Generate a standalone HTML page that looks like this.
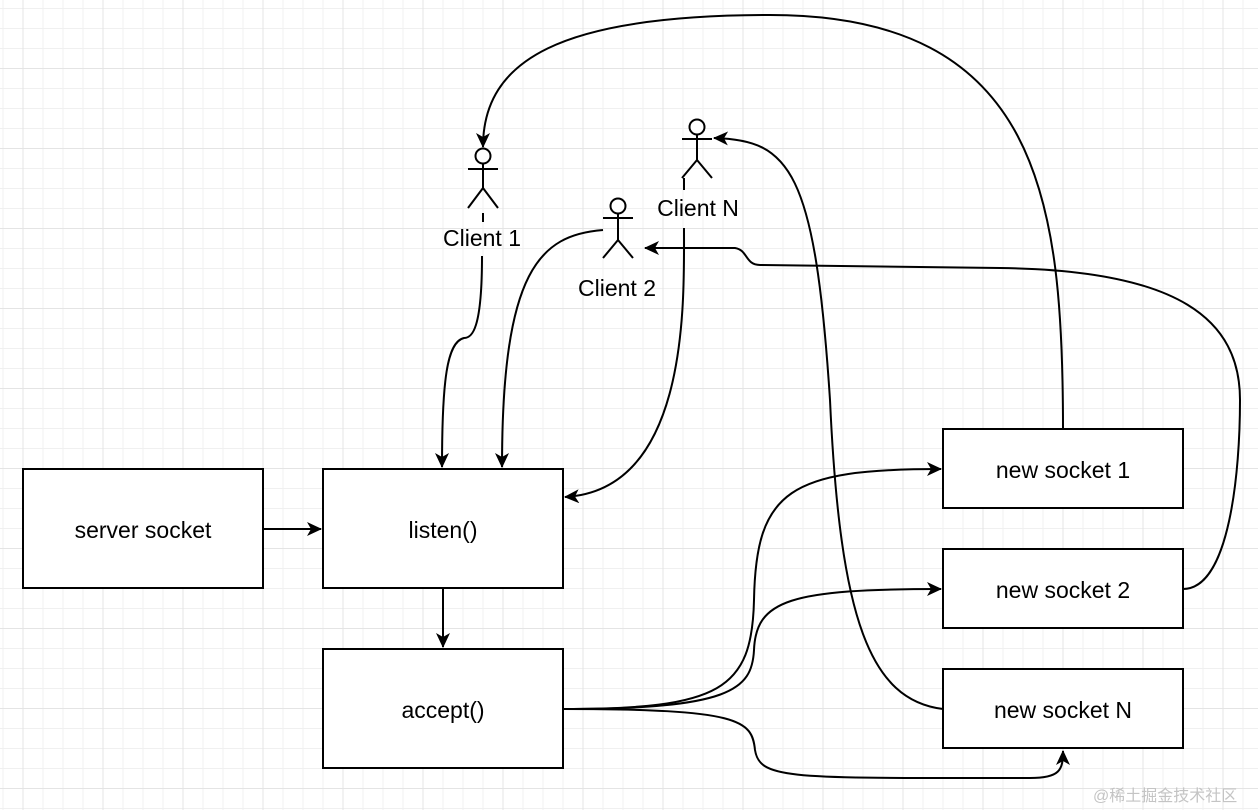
<!DOCTYPE html>
<html><head><meta charset="utf-8"><style>
html,body{margin:0;padding:0;background:#fff;}
svg{display:block;}
text{font-family:"Liberation Sans",Arial,sans-serif;font-size:23px;fill:#000;}
</style></head><body>
<svg width="1258" height="810" viewBox="0 0 1258 810" xmlns="http://www.w3.org/2000/svg">
<defs>
<pattern id="minor" width="20" height="20" patternUnits="userSpaceOnUse" x="2.5" y="8">
<path d="M0 0.5H20M0.5 0V20" stroke="#f0f0f0" stroke-width="1" fill="none"/>
</pattern>
<pattern id="major" width="80" height="80" patternUnits="userSpaceOnUse" x="22.5" y="68">
<path d="M0 0.5H80M0.5 0V80" stroke="#e4e4e4" stroke-width="1" fill="none"/>
</pattern>
<marker id="a" markerWidth="16" markerHeight="14" refX="14" refY="7" orient="auto" markerUnits="userSpaceOnUse" viewBox="0 0 16 14">
<path d="M0,0 L15,7 L0,14 L4,7 Z" fill="#000"/>
</marker>
</defs>
<rect width="1258" height="810" fill="url(#minor)"/>
<rect width="1258" height="810" fill="url(#major)"/>

<g fill="#fff" stroke="#000" stroke-width="2">
<rect x="23" y="469" width="240" height="119"/>
<rect x="323" y="469" width="240" height="119"/>
<rect x="323" y="649" width="240" height="119"/>
<rect x="943" y="429" width="240" height="79"/>
<rect x="943" y="549" width="240" height="79"/>
<rect x="943" y="669" width="240" height="79"/>
</g>
<g text-anchor="middle">
<text x="143" y="538">server socket</text>
<text x="443" y="538">listen()</text>
<text x="443" y="718">accept()</text>
<text x="1063" y="478">new socket 1</text>
<text x="1063" y="598">new socket 2</text>
<text x="1063" y="718">new socket N</text>
<text x="482" y="246">Client 1</text>
<text x="698" y="216">Client N</text>
<text x="617" y="296">Client 2</text>
</g>

<g fill="none" stroke="#000" stroke-width="2">
<circle cx="483" cy="156" r="7.5" fill="#fff"/>
<path d="M483 164V188M468 169H498M483 188L468 208M483 188L498 208M483 213V222"/>
<circle cx="697" cy="127" r="7.5" fill="#fff"/>
<path d="M697 135V160M682 139H712M697 160L682 178M697 160L712 178"/>
<circle cx="618" cy="206" r="7.5" fill="#fff"/>
<path d="M618 214V240M603 218H633M618 240L603 258M618 240L633 258"/>
</g>

<g fill="none" stroke="#000" stroke-width="2" marker-end="url(#a)">
<path d="M263 529H321"/>
<path d="M443 588V647"/>
<path d="M482 256C482 330 472 338 464 338C447 342 442 380 442 467"/>
<path d="M603 230C540 235 502 270 502 467"/>
<path d="M684 178V190M684 228C684 300 690 490 565 497"/>
<path d="M563 709C720 709 752 690 754 600C756 490 790 469 941 469"/>
<path d="M563 709C730 709 752 690 754 650C756 600 790 589 941 589"/>
<path d="M563 709C740 709 752 720 755 750C760 780 790 778 1030 778C1060 778 1063 770 1063 751"/>
<path d="M1063 429C1063 200 1040 15 770 15C560 15 483 60 483 147"/>
<path d="M1183 589C1230 589 1240 470 1240 400C1240 320 1180 270 1000 268L760 265C745 265 748 250 735 248L645 248"/>
<path d="M943 709C870 700 840 620 830 400C815 170 790 140 714 138"/>
</g>
<text x="1093" y="801" style="font-family:'Liberation Sans','Noto Sans CJK SC',sans-serif;font-size:16px;fill:#c4c4c4">@稀土掘金技术社区</text>
</svg>
</body></html>
